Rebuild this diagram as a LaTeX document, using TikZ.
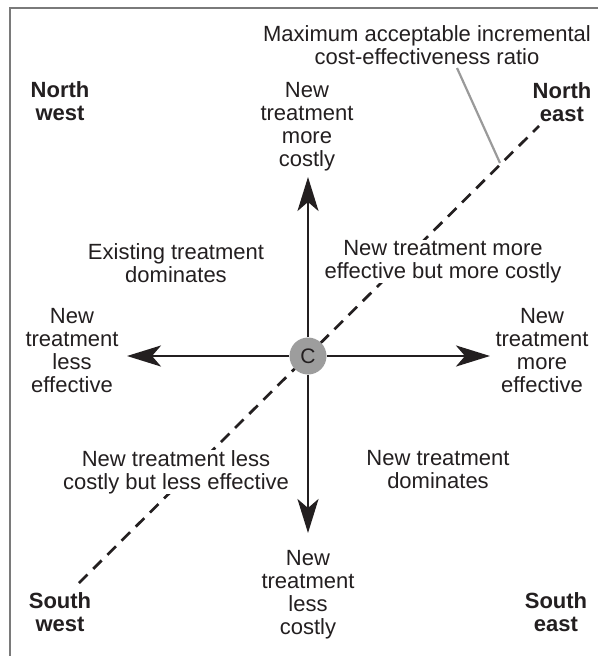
\documentclass[tikz,border=0pt]{standalone}
\usepackage{fontspec}
\setmainfont{Liberation Sans}
\usetikzlibrary{arrows.meta}
\definecolor{ink}{HTML}{231F20}
\definecolor{framegray}{HTML}{7A7A7A}
\definecolor{pointergray}{HTML}{9A9A9A}
\definecolor{origin}{HTML}{9D9D9D}
\begin{document}
\begin{tikzpicture}[x=1pt,y=-1pt,
  lbl/.style={anchor=north,align=center,inner sep=0pt,text=ink,fill=white,
    font=\fontsize{22}{23}\selectfont},
  compass/.style={lbl,font=\fontsize{22}{23.5}\selectfont\bfseries},
  axis/.style={draw=ink,line width=2.7pt,
    -{Stealth[length=34pt,width=21pt,inset=9pt]}},
  threshold/.style={draw=ink,line width=2.7pt,dash pattern=on 12pt off 8pt},
  pointer/.style={draw=pointergray,line width=2.2pt}]
\useasboundingbox (0,0) rectangle (598,656);
% frame (top and left edges)
\draw[framegray,line width=2pt] (598,8) -- (10,8) -- (10,656);

% threshold line through the origin
\coordinate (thrSW) at (79,583);
\coordinate (thrNE) at (539,126);
\draw[threshold] (thrSW) -- (thrNE);

% axis tips
\coordinate (tipN) at (308,177);
\coordinate (tipS) at (308,533);
\coordinate (tipW) at (127,356);
\coordinate (tipE) at (490,356);

\node[circle,minimum size=37pt,inner sep=0pt] (c) at (308,356) {};
\draw[axis] (c) -- (tipN);
\draw[axis] (c) -- (tipS);
\draw[axis] (c) -- (tipW);
\draw[axis] (c) -- (tipE);
\node[circle,fill=origin,minimum size=37pt,inner sep=0pt,text=ink,
  font=\fontsize{21}{22}\selectfont] (corig) at (308,356) {C};

% threshold label and its pointer
\node[lbl] (icer) at (427,25) {Maximum acceptable incremental\\cost-effectiveness ratio};
\coordinate (ptrA) at (457,68);
\coordinate (ptrB) at (500,163);
\draw[pointer] (ptrA) -- (ptrB);

% quadrant names
\node[compass] (nw) at (60,81) {North\\west};
\node[compass] (ne) at (562,82) {North\\east};
\node[compass] (sw) at (60,592) {South\\west};
\node[compass] (se) at (556,592) {South\\east};

% axis labels
\node[lbl] (up) at (307,82) {New\\treatment\\more\\costly};
\node[lbl] (down) at (308,550) {New\\treatment\\less\\costly};
\node[lbl] (left) at (72,308) {New\\treatment\\less\\effective};
\node[lbl] (right) at (542,308) {New\\treatment\\more\\effective};

% quadrant descriptions
\node[lbl] (exdom) at (176,243) {Existing treatment\\dominates};
\node[lbl] (nemc) at (443,240) {New treatment more\\effective but more costly};
\node[lbl] (nlc) at (176,450) {New treatment less\\costly but less effective};
\node[lbl] (newdom) at (438,450) {New treatment\\dominates};
\end{tikzpicture}
\end{document}
